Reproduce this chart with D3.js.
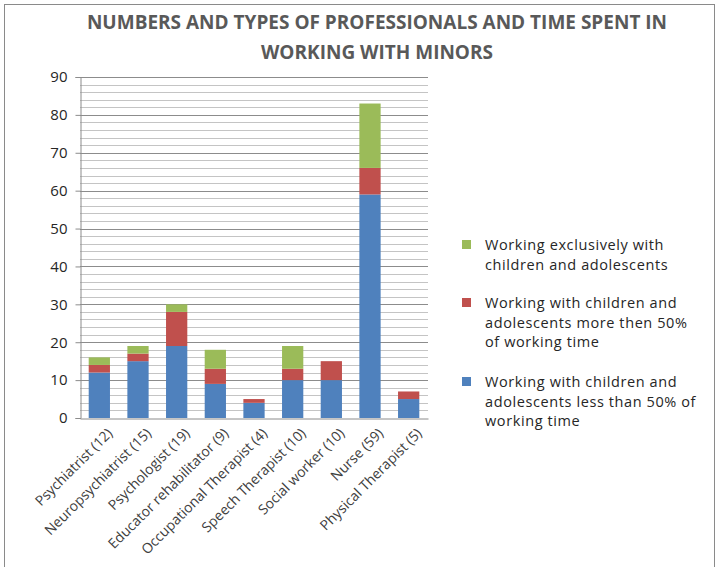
<!DOCTYPE html>
<html>
<head>
<meta charset="utf-8">
<script src="https://cdn.jsdelivr.net/npm/d3@7"></script>
<style>
  html, body { margin: 0; padding: 0; background: #fff; }
  svg { display: block; font-family: "Open Sans", "DejaVu Sans", sans-serif; }
</style>
</head>
<body>
<svg id="chart" width="720" height="567"></svg>
<script>
// Professions on the x axis (with head counts)
const categories = [
  "Psychiatrist (12)", "Neuropsychiatrist (15)", "Psychologist (19)",
  "Educator rehabilitator (9)", "Occupational Therapist (4)", "Speech Therapist (10)",
  "Social worker (10)", "Nurse (59)", "Physical Therapist (5)"
];
// Stacked series, bottom to top
const lessThanHalf = [12, 15, 19, 9, 4, 10, 10, 59, 5];
const moreThanHalf = [2, 2, 9, 4, 1, 3, 5, 7, 2];
const exclusively  = [2, 2, 2, 5, 0, 6, 0, 17, 0];
const seriesNames = [
  "Working with children and adolescents less than 50% of working time",
  "Working with children and adolescents more then 50% of working time",
  "Working exclusively with children and adolescents"
];
const yTicks = [0, 10, 20, 30, 40, 50, 60, 70, 80, 90];
const titleLines = ["NUMBERS AND TYPES OF PROFESSIONALS AND TIME SPENT IN", "WORKING WITH MINORS"];
const legendLines = [
  ["Working exclusively with", "children and adolescents"],
  ["Working with children and", "adolescents more then 50%", "of working time"],
  ["Working with children and", "adolescents less than 50% of", "working time"]
];

const colors = ["#4F81BD", "#C0504D", "#9BBB59"];
const svg = d3.select("#chart");

// frame
svg.append("rect").attr("x", 4.5).attr("y", 4.5).attr("width", 710).attr("height", 570)
  .attr("fill", "none").attr("stroke", "#8a8a8a").attr("stroke-width", 1);

// title
svg.append("g").selectAll("text").data(titleLines).join("text")
  .attr("x", 377).attr("y", (d, i) => 29 + i * 30)
  .attr("text-anchor", "middle")
  .attr("font-size", 19).attr("font-weight", "bold").attr("fill", "#595959")
  .text(d => d);

const plot = { left: 80, right: 428, top: 77, bottom: 418 };

const x = d3.scaleBand().domain(categories).range([plot.left, plot.right]).paddingInner(0.45).paddingOuter(0.225);
const y = d3.scaleLinear().domain([0, 90]).range([plot.bottom, plot.top]);

// gridlines: minor every 2, major every 10
const minor = d3.range(2, 90, 2).filter(v => v % 10 !== 0);
svg.append("g").selectAll("line").data(minor).join("line")
  .attr("x1", plot.left).attr("x2", plot.right)
  .attr("y1", d => Math.round(y(d)) + 0.5).attr("y2", d => Math.round(y(d)) + 0.5)
  .attr("stroke", "#c4c4c4").attr("stroke-width", 1);
svg.append("g").selectAll("line").data(yTicks.slice(1)).join("line")
  .attr("x1", plot.left).attr("x2", plot.right)
  .attr("y1", d => Math.round(y(d)) + 0.5).attr("y2", d => Math.round(y(d)) + 0.5)
  .attr("stroke", "#8c8c8c").attr("stroke-width", 1);

// stacked bars
const table = categories.map((c, i) => ({ cat: c, a: lessThanHalf[i], b: moreThanHalf[i], c: exclusively[i] }));
const stacked = d3.stack().keys(["a", "b", "c"])(table);
svg.append("g").selectAll("g").data(stacked).join("g")
  .attr("fill", (d, i) => colors[i])
  .selectAll("rect").data(d => d.filter(p => p[1] > p[0])).join("rect")
  .attr("x", d => x(d.data.cat))
  .attr("width", x.bandwidth())
  .attr("y", d => y(d[1]))
  .attr("height", d => y(d[0]) - y(d[1]));

// y axis
const yAxis = svg.append("g").attr("transform", `translate(${plot.left + 0.5},0)`)
  .call(d3.axisLeft(y).tickValues(yTicks).tickSize(5).tickPadding(8));
yAxis.select(".domain").attr("stroke", "#8c8c8c");
yAxis.selectAll(".tick line").attr("stroke", "#8c8c8c");
yAxis.selectAll("text").attr("font-size", 15).attr("fill", "#262626")
  .attr("font-family", "'Open Sans', sans-serif");

// x axis
const xAxis = svg.append("g").attr("transform", `translate(0,${plot.bottom + 0.5})`)
  .call(d3.axisBottom(x).tickSize(0).tickPadding(6));
xAxis.select(".domain").attr("stroke", "#8c8c8c");
xAxis.selectAll("text")
  .attr("font-family", "'Open Sans', sans-serif")
  .attr("font-size", 14).attr("fill", "#404040")
  .attr("text-anchor", "end")
  .attr("dy", "0.35em")
  .attr("transform", d => `translate(${x.bandwidth() * 0.3},8) rotate(-45)`);

// legend
const legendY = [[245, 265], [303, 323, 342], [382, 402, 421]];
const legendColors = [colors[2], colors[1], colors[0]];
const lg = svg.append("g");
legendLines.forEach((lines, i) => {
  lg.append("rect").attr("x", 462).attr("y", legendY[i][0] - 5).attr("width", 9).attr("height", 9)
    .attr("fill", legendColors[i]);
  lines.forEach((t, j) => {
    lg.append("text").attr("x", 485).attr("y", legendY[i][j]).attr("dy", "0.35em")
      .attr("font-size", 14.5).attr("letter-spacing", 0.6).attr("fill", "#262626").text(t);
  });
});
</script>
</body>
</html>
